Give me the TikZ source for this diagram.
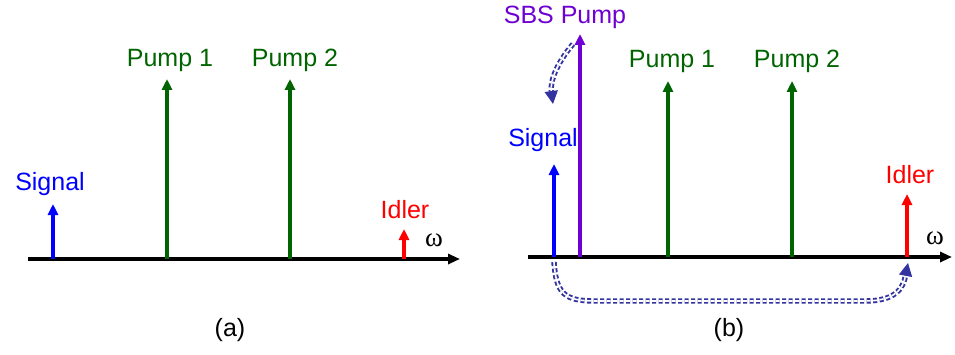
\documentclass[tikz,border=0pt]{standalone}
\usepackage{fontspec}
\setmainfont{Liberation Sans}
\newfontfamily\greekserif{Liberation Serif}
\usetikzlibrary{arrows.meta}
\definecolor{sigblue}{RGB}{0,0,255}
\definecolor{pumpgreen}{RGB}{0,100,0}
\definecolor{idlred}{RGB}{255,0,0}
\definecolor{sbspurple}{RGB}{110,0,210}
\definecolor{linkblue}{RGB}{50,50,160}
\tikzset{
  line/.style={line width=3.4pt, -{Triangle[length=11pt, width=10pt]}},
  axis/.style={line width=3.4pt, -{Triangle[length=12pt, width=10pt]}},
  lbl/.style={font=\fontsize{25}{28}\selectfont, inner sep=0pt},
  omg/.style={font=\greekserif\fontsize{27}{28}\selectfont, inner sep=0pt},
  link/.style={linkblue, double=white, double distance=1.6pt, line width=1.9pt,
    dash pattern=on 4pt off 2.5pt, -{Triangle[length=13pt, width=13pt]}}
}
\begin{document}
\begin{tikzpicture}[x=1pt, y=1pt]
  \useasboundingbox (0,0) rectangle (955,354);

  % (a)
  \draw [axis] (28, 95) -- (460, 95) coordinate (wa);
  \node [omg] (omegaa) at (434, 114) {ω};

  \coordinate (sa0) at (53, 95);   \coordinate (sa1) at (53, 150);
  \coordinate (pa0) at (167, 95);  \coordinate (pa1) at (167, 275);
  \coordinate (qa0) at (290, 95);  \coordinate (qa1) at (290, 275);
  \coordinate (ia0) at (404, 95);  \coordinate (ia1) at (404, 125);

  \draw [line, sigblue] (sa0) -- (sa1);
  \draw [line, pumpgreen] (pa0) -- (pa1);
  \draw [line, pumpgreen] (qa0) -- (qa1);
  \draw [line, idlred] (ia0) -- (ia1);

  \node [lbl, sigblue] (siga) at (50, 170) {Signal};
  \node [lbl, pumpgreen] (p1a) at (170, 294) {Pump 1};
  \node [lbl, pumpgreen] (p2a) at (295, 294) {Pump 2};
  \node [lbl, idlred] (idla) at (405, 144) {Idler};
  \node [lbl] (capa) at (230, 24) {(a)};

  % (b)
  \draw [axis, line width=4.2pt] (528, 97) -- (952, 97) coordinate (wb);
  \node [omg] (omegab) at (935, 116) {ω};

  \coordinate (sb0) at (554, 97);  \coordinate (sb1) at (554, 190);
  \coordinate (bb0) at (580, 97);  \coordinate (bb1) at (580, 320);
  \coordinate (pb0) at (668, 97);  \coordinate (pb1) at (668, 273);
  \coordinate (qb0) at (792, 97);  \coordinate (qb1) at (792, 273);
  \coordinate (ib0) at (907, 97);  \coordinate (ib1) at (907, 160);

  \draw [line, sigblue] (sb0) -- (sb1);
  \draw [line, sbspurple] (bb0) -- (bb1);
  \draw [line, pumpgreen] (pb0) -- (pb1);
  \draw [line, pumpgreen] (qb0) -- (qb1);
  \draw [line, idlred] (ib0) -- (ib1);

  \node [lbl, sigblue] (sigb) at (543, 214) {Signal};
  \node [lbl, sbspurple] (sbsb) at (565, 337) {SBS Pump};
  \node [lbl, pumpgreen] (p1b) at (672, 293) {Pump 1};
  \node [lbl, pumpgreen] (p2b) at (797, 293) {Pump 2};
  \node [lbl, idlred] (idlb) at (910, 179) {Idler};
  \node [lbl] (capb) at (729, 24) {(b)};

  % transfer arrows
  \coordinate (sbstop) at (573, 310);
  \coordinate (sigtop) at (553, 250);
  \draw [link] (sbstop) .. controls (556, 290) and (550, 272) .. (sigtop);
  \coordinate (sigbot) at (554, 92);
  \coordinate (idlbot) at (908, 91);
  \draw [link] (sigbot) .. controls (556, 60) and (565, 53) .. (595, 53)
    -- (865, 53) .. controls (895, 53) and (903, 65) .. (idlbot);

\end{tikzpicture}
\end{document}
